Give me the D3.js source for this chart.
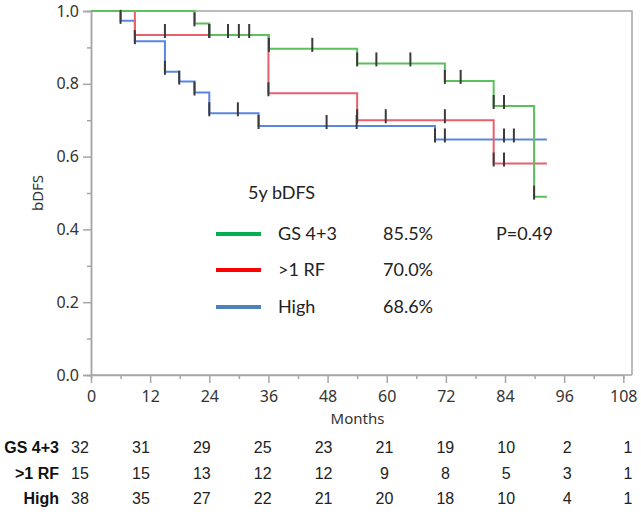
<!DOCTYPE html>
<html>
<head>
<meta charset="utf-8">
<script src="https://cdn.jsdelivr.net/npm/d3@7"></script>
<style>
  html, body { margin: 0; padding: 0; background: #fff; }
  svg { display: block; }
</style>
</head>
<body>
<svg id="chart" width="641" height="522"></svg>
<script>
// ---------- data ----------
const groups = ["GS 4+3", ">1 RF", "High"];
const fiveYear = ["85.5%", "70.0%", "68.6%"];
const pValue = "P=0.49";
const xTicks = [0, 12, 24, 36, 48, 60, 72, 84, 96, 108];
const yTicks = [0.0, 0.2, 0.4, 0.6, 0.8, 1.0];

// Kaplan-Meier steps (month, survival after the drop)
const gsTimes = [0, 21.0, 24.0, 36.1, 54.0, 71.8, 81.7, 89.9];
const gsSurv  = [1.0, 0.966, 0.934, 0.896, 0.856, 0.808, 0.739, 0.49];
const gsEnd = 92.5;
const gsCensor = [21.0, 24.0, 27.8, 30.0, 32.1, 36.1, 44.9, 54.0, 57.9, 64.8, 71.8, 75.0, 81.7, 83.8, 89.9];

const rfTimes = [0, 8.9, 36.0, 54.0, 81.7];
const rfSurv  = [1.0, 0.934, 0.774, 0.700, 0.581];
const rfEnd = 92.5;
const rfCensor = [15.0, 24.0, 36.0, 54.0, 59.8, 71.8, 81.7, 83.8];

const hiTimes = [0, 6.0, 8.9, 15.0, 17.9, 21.0, 24.0, 34.0, 69.8];
const hiSurv  = [1.0, 0.973, 0.917, 0.833, 0.806, 0.776, 0.719, 0.684, 0.647];
const hiEnd = 92.5;
const hiCensor = [6.0, 8.9, 15.0, 17.9, 21.0, 24.0, 29.8, 34.0, 47.8, 53.9, 69.8, 71.8, 83.8, 85.8];

// numbers at risk
const riskMonths = [0, 12, 24, 36, 48, 60, 72, 84, 96, 108];
const riskGS = [32, 31, 29, 25, 23, 21, 19, 10, 2, 1];
const riskRF = [15, 15, 13, 12, 12, 9, 8, 5, 3, 1];
const riskHi = [38, 35, 27, 22, 21, 20, 18, 10, 4, 1];

// ---------- layout / style ----------
const curveColors = ["#5cc05c", "#e8606e", "#5b86e0"];
const legendColors = ["#00b050", "#ff0000", "#4f81bd"];
const axisColor = "#a6a6a6";
const plotLeft = 91, plotRight = 632, plotTop = 11, plotBottom = 375;

const svg = d3.select("#chart");
const x = d3.scaleLinear().domain([0, 108]).range([plotLeft, 623.3]);
const y = d3.scaleLinear().domain([0, 1]).range([plotBottom, plotTop]);

const tickFont = "'Noto Sans', 'Open Sans', sans-serif";

// frame (top and right)
svg.append("path")
  .attr("d", `M${plotLeft},${plotTop}H${plotRight}V${plotBottom}`)
  .attr("fill", "none").attr("stroke", axisColor).attr("stroke-width", 1.5);

// y axis
const yAxis = svg.append("g").attr("transform", `translate(${plotLeft},0)`)
  .call(d3.axisLeft(y).tickValues(yTicks).tickFormat(d3.format(".1f")).tickSize(8).tickPadding(4));
const yMinor = svg.append("g").attr("transform", `translate(${plotLeft},0)`)
  .call(d3.axisLeft(y).tickValues([0.1, 0.3, 0.5, 0.7, 0.9]).tickFormat("").tickSize(4));
// x axis
const xAxis = svg.append("g").attr("transform", `translate(0,${plotBottom})`)
  .call(d3.axisBottom(x).tickValues(xTicks).tickSize(8).tickPadding(8));
const xMinor = svg.append("g").attr("transform", `translate(0,${plotBottom})`)
  .call(d3.axisBottom(x).tickValues(xTicks.slice(0, -1).map(d => d + 6)).tickFormat("").tickSize(4));

[yAxis, yMinor, xAxis, xMinor].forEach(g => {
  g.selectAll("path.domain").attr("stroke", axisColor).attr("stroke-width", 1.5);
  g.selectAll(".tick line").attr("stroke", axisColor).attr("stroke-width", 1.5);
  g.selectAll(".tick text").attr("fill", "#333").attr("font-size", 16).attr("font-family", tickFont);
});
xAxis.select("path.domain").attr("d", `M${plotLeft},0H${plotRight}`);

// axis titles
svg.append("text").attr("x", (plotLeft + plotRight) / 2 - 4).attr("y", 424)
  .attr("text-anchor", "middle").attr("font-size", 15).attr("font-family", tickFont).attr("fill", "#333")
  .text("Months");
svg.append("text").attr("transform", `translate(43,${(plotTop + plotBottom) / 2}) rotate(-90)`)
  .attr("text-anchor", "middle").attr("font-size", 15).attr("font-family", tickFont).attr("fill", "#333")
  .text("bDFS");

// curves
const series = [
  { times: hiTimes, surv: hiSurv, end: hiEnd, censor: hiCensor, color: curveColors[2] },
  { times: rfTimes, surv: rfSurv, end: rfEnd, censor: rfCensor, color: curveColors[1] },
  { times: gsTimes, surv: gsSurv, end: gsEnd, censor: gsCensor, color: curveColors[0] }
];
const line = d3.line().x(d => x(d[0])).y(d => y(d[1])).curve(d3.curveStepAfter);
function survAt(s, t) {
  let v = s.surv[0];
  s.times.forEach((tt, i) => { if (tt <= t + 1e-9) v = s.surv[i]; });
  return v;
}
series.forEach(s => {
  const pts = s.times.map((t, i) => [t, s.surv[i]]);
  pts.push([s.end, s.surv[s.surv.length - 1]]);
  svg.append("path").datum(pts).attr("d", line)
    .attr("fill", "none").attr("stroke", s.color).attr("stroke-width", 2);
});
series.forEach(s => {
  svg.append("g").selectAll("line").data(s.censor).join("line")
    .attr("x1", d => x(d)).attr("x2", d => x(d))
    .attr("y1", d => y(survAt(s, d)) - 11).attr("y2", d => y(survAt(s, d)) + 3)
    .attr("stroke", "#3a3a3a").attr("stroke-width", 2);
});

// legend
const legFont = "Lato, 'Open Sans', sans-serif";
svg.append("text").attr("x", 248).attr("y", 193).attr("dy", "0.35em").attr("font-size", 18)
  .attr("font-family", legFont).attr("fill", "#222").text("5y bDFS");
const legY = [234, 270, 307];
groups.forEach((g, i) => {
  svg.append("line").attr("x1", 216).attr("x2", 261).attr("y1", legY[i]).attr("y2", legY[i])
    .attr("stroke", legendColors[i]).attr("stroke-width", 4);
  svg.append("text").attr("x", 278).attr("y", legY[i]).attr("dy", "0.35em")
    .attr("font-size", 18).attr("font-family", legFont).attr("fill", "#222").text(g);
  svg.append("text").attr("x", 383).attr("y", legY[i]).attr("dy", "0.35em")
    .attr("font-size", 18).attr("font-family", legFont).attr("fill", "#222").text(fiveYear[i]);
});
svg.append("text").attr("x", 496).attr("y", legY[0]).attr("dy", "0.35em")
  .attr("font-size", 18).attr("font-family", legFont).attr("fill", "#222").text(pValue);

// number at risk table
const tx = d3.scalePoint().domain(riskMonths).range([80, 628]);
const rows = [riskGS, riskRF, riskHi];
const rowY = [447, 473, 498];
const tabFont = "'Liberation Sans', Arial, sans-serif";
rows.forEach((r, i) => {
  svg.append("text").attr("x", 59).attr("y", rowY[i]).attr("dy", "0.35em")
    .attr("text-anchor", "end").attr("font-weight", "bold").attr("font-size", 16)
    .attr("font-family", tabFont).attr("fill", "#111").text(groups[i]);
  svg.append("g").selectAll("text").data(r).join("text")
    .attr("x", (d, j) => tx(riskMonths[j])).attr("y", rowY[i]).attr("dy", "0.35em")
    .attr("text-anchor", "middle").attr("font-size", 16).attr("font-family", tabFont)
    .attr("fill", "#222").text(d => d);
});
</script>
</body>
</html>
